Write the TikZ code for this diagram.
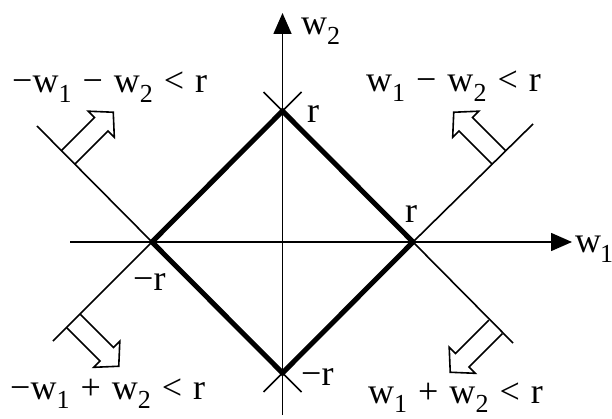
\documentclass[tikz,border=0pt]{standalone}
\usepackage{fontspec}
\setmainfont{Liberation Serif}
\usetikzlibrary{arrows.meta}
\newcommand\lsub[1]{\raisebox{-0.26em}{\fontsize{26}{26}\selectfont #1}}
\newcommand\labfont{\fontsize{36}{36}\selectfont\spaceskip=11pt\relax}
\begin{document}
\begin{tikzpicture}[x=1pt,y=-1pt,
  thinline/.style={line width=1.6pt},
  thickline/.style={line width=5pt, line join=miter},
  axis/.style={line width=1.6pt, -{Triangle[length=21pt,width=18pt]}},
  lab/.style={anchor=base west, inner sep=0pt, font=\labfont},
  hollowarrow/.pic={\draw[line width=1.6pt, line join=miter]
     (0,-9.5) -- (47,-9.5) -- (47,-18.5) -- (64,0) -- (47,18.5) -- (47,9.5) -- (0,9.5);}]
\useasboundingbox (0,0) rectangle (612,419);
% vertices
\coordinate (T) at (282.5,111);
\coordinate (R) at (413,242);
\coordinate (B) at (282.5,373);
\coordinate (L) at (152,242);
% axis ends
\coordinate (xl) at (70,242);
\coordinate (xr) at (572,242);
\coordinate (yb) at (282.5,415);
\coordinate (yt) at (282.5,13);
% extension ends
\coordinate (eul) at (37,126);
\coordinate (eur) at (533,124);
\coordinate (ell) at (53,341);
\coordinate (elr) at (513,343);
\coordinate (etl) at (263.5,92);
\coordinate (etr) at (301.5,92);
\coordinate (ebl) at (263.5,392);
\coordinate (ebr) at (301.5,392);
% axes
\draw[axis] (xl) -- (xr);
\draw[axis] (yb) -- (yt);
% extension lines
\draw[thinline] (eul) -- (L);
\draw[thinline] (ell) -- (L);
\draw[thinline] (eur) -- (R);
\draw[thinline] (elr) -- (R);
\draw[thinline] (etl) -- (T) -- (etr);
\draw[thinline] (ebl) -- (B) -- (ebr);
% diamond
\draw[thickline] (T) -- (R) -- (B) -- (L) -- cycle;
% hollow arrows
\pic[rotate=45] at (68,157.5) {hollowarrow};
\pic[rotate=135] at (499,157.5) {hollowarrow};
\pic[rotate=-45] at (73.5,321) {hollowarrow};
\pic[rotate=-135] at (495.5,327) {hollowarrow};
% labels
\node[lab] (w2) at (301,35) {w\lsub{2}};
\node[lab] (w1) at (575,253) {w\kern-1pt\lsub{1}};
\node[lab] (rt) at (307,123) {r};
\node[lab] (rr) at (405,223) {r};
\node[lab] (rl) at (133,290) {−r};
\node[lab] (rb) at (301,385) {−r};
\node[lab] (c1) at (12,93) {−w\lsub{1} − w\lsub{2} < r};
\node[lab] (c2) at (366,92) {w\lsub{1} − w\lsub{2} < r};
\node[lab] (c3) at (10,399) {−w\lsub{1} + w\lsub{2} < r};
\node[lab] (c4) at (368,403) {w\lsub{1} + w\lsub{2} < r};
\end{tikzpicture}
\end{document}
